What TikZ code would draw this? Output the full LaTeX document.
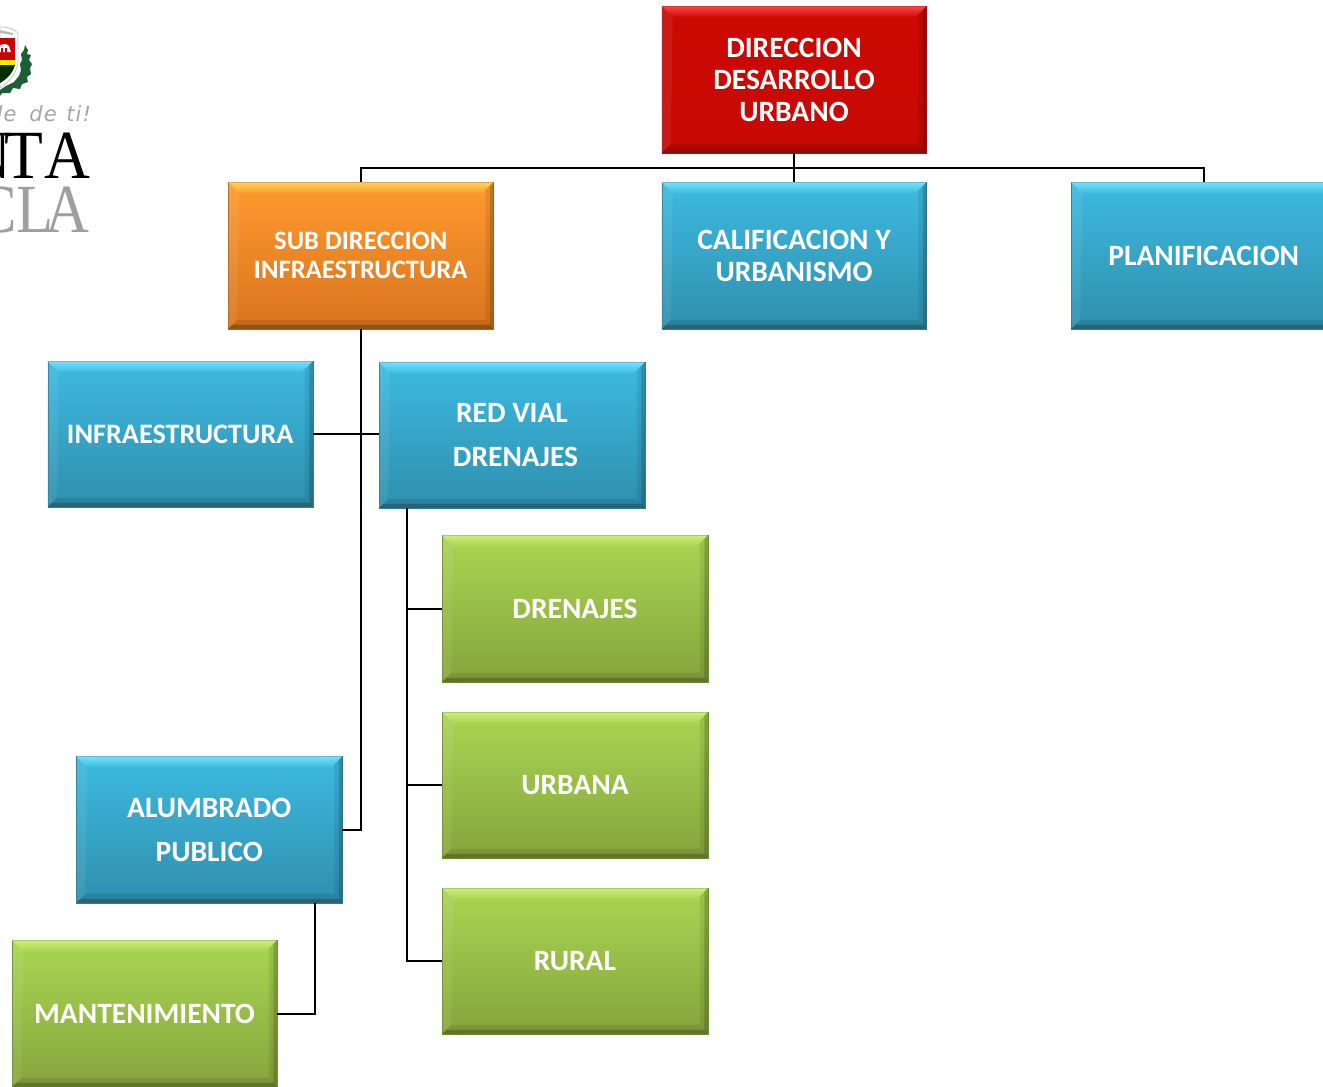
\documentclass[tikz,border=0pt]{standalone}
\usepackage{fontspec}
\setmainfont{Carlito}
\newfontfamily\logoserif{Liberation Serif}
\newfontfamily\logohand[LetterSpace=5]{DejaVu Sans}
\usetikzlibrary{calc}
% palettes: T body top, B body bottom, H top bevel, D bottom bevel, E edge
\definecolor{blueT}{HTML}{3DBAE0}\definecolor{blueB}{HTML}{2F8FAE}\definecolor{blueH}{HTML}{72E3FC}\definecolor{blueD}{HTML}{2B6275}\definecolor{blueE}{HTML}{2E7C97}
\definecolor{greenT}{HTML}{A8D651}\definecolor{greenB}{HTML}{87A43E}\definecolor{greenH}{HTML}{CBEF78}\definecolor{greenD}{HTML}{5E752D}\definecolor{greenE}{HTML}{6F8C36}
\definecolor{orangeT}{HTML}{FF9A2F}\definecolor{orangeB}{HTML}{D9741F}\definecolor{orangeH}{HTML}{FFD356}\definecolor{orangeD}{HTML}{8A5519}\definecolor{orangeE}{HTML}{B0651E}
\definecolor{redT}{HTML}{CC0A04}\definecolor{redB}{HTML}{C80803}\definecolor{redH}{HTML}{FF4444}\definecolor{redD}{HTML}{86100C}\definecolor{redE}{HTML}{A81210}
\definecolor{leafgreen}{HTML}{1C5F35}
\tikzset{
  boxbase/.style={rectangle,inner sep=0pt,outer sep=0pt,text=white,align=center,line width=.5pt,
    font=\bfseries\fontsize{29.5}{32}\selectfont},
  subfont/.style={font=\bfseries\fontsize{26.6}{29}\selectfont},
  inffont/.style={font=\bfseries\fontsize{28.2}{32}\selectfont},
  link/.style={draw=black,line width=2pt,line cap=butt,line join=miter},
  logotext/.style={inner sep=0pt,outer sep=0pt,anchor=base east}
}
% name, x1, y1, x2, y2, palette, extra node options, text
\newcommand{\bevbox}[8]{%
  \node[boxbase,draw=#6E,top color=#6T,bottom color=#6B,minimum width={(#4-#2-1)*1pt},minimum height={(#5-#3-.5)*1pt},#7]
    (#1) at ({(#2+#4)/2-.25},{(#3+#5)/2}) {#8};
  \shade[top color=#6H,bottom color=#6T] (#1.north west) -- (#1.north east) -- ($(#1.north east)+(-11,11)$) -- ($(#1.north west)+(11,11)$) -- cycle;
  \fill[black,opacity=.10] (#1.south west) -- (#1.south east) -- ($(#1.south east)+(-9,-9)$) -- ($(#1.south west)+(9,-9)$) -- cycle;
  \fill[#6D] (#1.south west) -- (#1.south east) -- ($(#1.south east)+(-4,-4)$) -- ($(#1.south west)+(4,-4)$) -- cycle;
  \fill[white,opacity=.07] (#1.north west) -- ($(#1.north west)+(11,11)$) -- ($(#1.south west)+(9,-9)$) -- (#1.south west) -- cycle;
  \fill[black,opacity=.08] (#1.north east) -- ($(#1.north east)+(-8,8)$) -- ($(#1.south east)+(-8,-8)$) -- (#1.south east) -- cycle;
  \fill[black,opacity=.16] (#1.north east) -- ($(#1.north east)+(-3.5,3.5)$) -- ($(#1.south east)+(-3.5,-3.5)$) -- (#1.south east) -- cycle;
}
\begin{document}
\begin{tikzpicture}[x=1pt,y=-1pt]
\useasboundingbox (0,0) rectangle (1323,1087);
% logo
\begin{scope}
  \clip (0,0) rectangle (120,250);
  \draw[gray!45,fill=white,line width=.8pt] (0,27) .. controls (8,27) and (14,29) .. (18,33) -- (18,62) .. controls (17,72) and (10,82) .. (0,88) -- cycle;
  \fill[gray!55] (0,30) -- (13,33) -- (13,35) -- (0,33) -- cycle;
  \fill[red!80!black] (0,38) -- (15,38) -- (15,60) -- (0,60) -- cycle;
  \fill[white] (0,52) -- (11,52) -- (9,46) .. controls (6,43) and (3,44) .. (0,45) -- cycle;
  \fill[red!80!black] (1,48) rectangle (3,52) (5,48) rectangle (7,52);
  \fill[yellow!90!orange] (0,60) rectangle (15,65);
  \fill[black!70!green!60!black] (0,65) -- (15,65) .. controls (13,73) and (7,79) .. (0,83) -- cycle;
  \fill[leafgreen] (25,45) -- (28,50) -- (27,54) -- (31,55) -- (29,60) -- (32,64) -- (30,68) -- (31,74) -- (27,77) -- (28,82) -- (22,84) -- (20,89) -- (13,88) -- (10,93) -- (2,93) -- (0,96) -- (0,90) -- (6,86) -- (14,82) -- (19,76) -- (21,70) -- (20,64) -- (22,60) -- (21,54) -- (24,50) -- cycle;
  \node[logotext,text=gray!70] (lema) at (91,121) {\logohand\itshape\fontsize{21}{24}\selectfont le \hspace{5pt}de \hspace{2pt}ti!};
  \node[logotext,text=black] (nta) at (90,178) {\logoserif\scalebox{.92}[1]{\fontsize{69}{69}\selectfont N\kern-7ptT\kern1ptA}};
  \node[logotext,text=gray!75] (cla) at (89,232) {\logoserif\scalebox{.88}[1]{\fontsize{69}{69}\selectfont CL\kern-10ptA}};
\end{scope}
% boxes
\bevbox{red}{661.5}{6}{927}{153}{red}{}{DIRECCION\\DESARROLLO\\URBANO}
\bevbox{sub}{228}{182}{494}{329}{orange}{subfont}{SUB DIRECCION\\INFRAESTRUCTURA}
\bevbox{cal}{661.5}{182}{927}{329}{blue}{}{CALIFICACION Y\\URBANISMO}
\bevbox{pla}{1071}{182}{1337}{329}{blue}{}{PLANIFICACION}
\bevbox{inf}{47.5}{361}{313.5}{507}{blue}{inffont}{INFRAESTRUCTURA}
\bevbox{vial}{379}{362}{645.5}{508}{blue}{}{RED VIAL\\[12pt]\hspace*{7pt}DRENAJES}
\bevbox{dre}{442}{535}{708.5}{682}{green}{}{DRENAJES}
\bevbox{urb}{442}{712}{708.5}{858}{green}{}{URBANA}
\bevbox{rur}{442}{888}{708.5}{1034}{green}{}{RURAL}
\bevbox{alu}{76}{756}{343}{903}{blue}{}{ALUMBRADO\\[12pt]PUBLICO}
\bevbox{man}{12}{940}{277.5}{1087}{green}{}{MANTENIMIENTO}
% connectors
\coordinate (viald) at ($(vial.south west)+(28,0)$);
\coordinate (alud) at ($(alu.south east)+(-27.5,0)$);
\draw[link] (red.south) -- (cal.north);
\draw[link] (sub.north) -- ++(0,-14) -| (pla.north);
\draw[link] (sub.south) |- (alu.east);
\draw[link] (inf.east) -- (inf.east -| vial.west);
\draw[link] (viald) |- (dre.west);
\draw[link] (viald) |- (urb.west);
\draw[link] (viald) |- (rur.west);
\draw[link] (alud) |- (man.east);
\end{tikzpicture}
\end{document}
